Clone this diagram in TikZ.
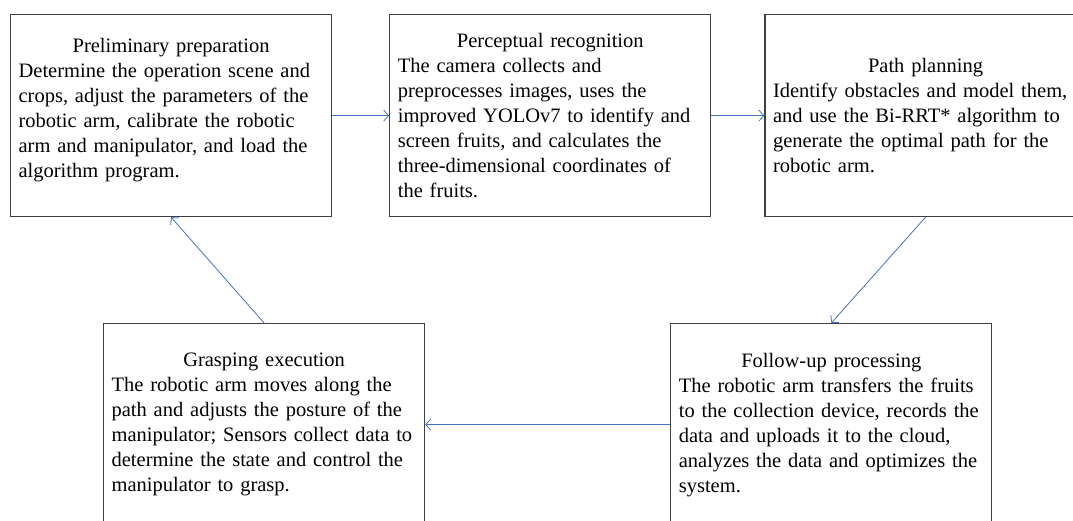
\documentclass[tikz,border=0pt]{standalone}
\usepackage{fontspec}
\setmainfont{Liberation Serif}
\usepackage{xcolor}
\usetikzlibrary{positioning,arrows.meta}

\definecolor{flowblue}{HTML}{4472C4}
\definecolor{boxgray}{HTML}{404040}
\newcommand{\stagetitle}[1]{\makebox[305pt][c]{#1}}

\begin{document}
\begin{tikzpicture}[
    x=1pt, y=-1pt,
    stage/.style={draw=boxgray,line width=1.2pt,align=left,anchor=north west,
      text width=305pt,inner xsep=8pt,inner ysep=0pt,minimum height=202pt,
      font=\fontsize{20.5}{25}\selectfont},
    flow/.style={-{Straight Barb[length=5pt,width=11pt]},draw=flowblue,line width=0.8pt},
  ]
    \useasboundingbox (0,0) rectangle (1073,520);
    \clip (0,0) rectangle (1073,520);

    % top row
    \node[stage] (prep) at (10,14) {\stagetitle{Preliminary preparation}\\
      Determine the operation scene and\\crops, adjust the parameters of the\\
      robotic arm, calibrate the robotic\\arm and manipulator, and load the\\
      algorithm program.\\[-9pt]\mbox{}};
    \node[stage,right=57pt of prep.north east,anchor=north west] (percept) {\stagetitle{Perceptual recognition}\\
      The camera collects and\\preprocesses images, uses the\\
      improved YOLOv7 to identify and\\screen fruits, and calculates the\\
      three-dimensional coordinates of\\the fruits.};
    \node[stage,right=53pt of percept.north east,anchor=north west] (path) {\stagetitle{Path planning}\\
      Identify obstacles and model them,\\and use the Bi-RRT* algorithm to\\
      generate the optimal path for the\\robotic arm.};

    % bottom row
    \node[stage] (grasp) at (103,323) {\stagetitle{Grasping execution}\\
      The robotic arm moves along the\\path and adjusts the posture of the\\
      manipulator; Sensors collect data to\\determine the state and control the\\
      manipulator to grasp.};
    \node[stage,right=245pt of grasp.north east,anchor=north west] (follow) {\stagetitle{Follow-up processing}\\
      The robotic arm transfers the fruits\\to the collection device, records the\\
      data and uploads it to the cloud,\\analyzes the data and optimizes the\\
      system.};

    \draw[flow] (prep) -- (percept);
    \draw[flow] (percept) -- (path);
    \draw[flow] (path.south) -- (follow.north);
    \draw[flow] (follow) -- (grasp);
    \draw[flow] (grasp.north) -- (prep.south);
  \end{tikzpicture}
\end{document}
